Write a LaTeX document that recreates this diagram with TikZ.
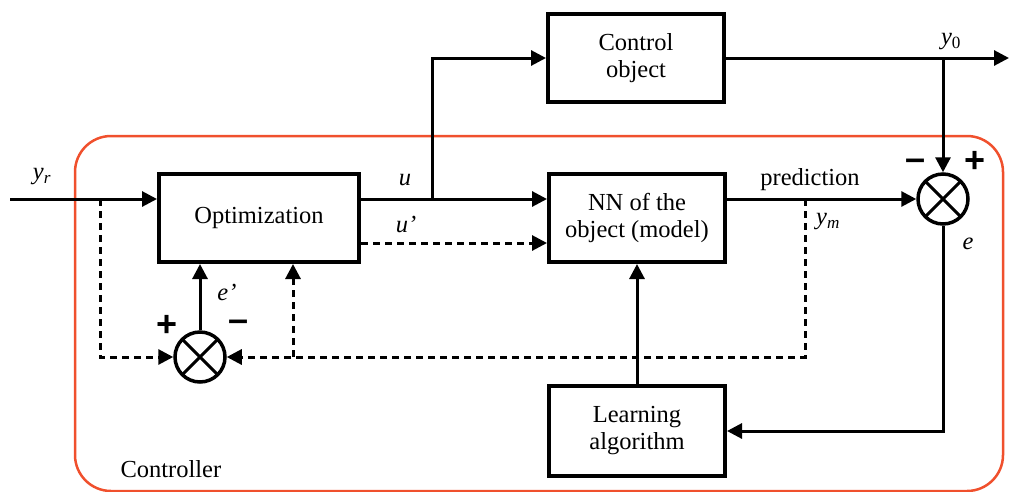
\documentclass[tikz,border=0pt]{standalone}
\usepackage{fontspec}
\setmainfont{Liberation Serif}
\setsansfont{Liberation Sans}
\usetikzlibrary{arrows.meta,calc}
\definecolor{frame}{RGB}{240,80,45}
\begin{document}
\begin{tikzpicture}[x=1pt,y=-1pt,
  every node/.style={font=\fontsize{24.5}{27}\selectfont},
  blk/.style={draw,line width=4pt,minimum width=176pt,minimum height=88pt,align=center,inner sep=0pt},
  sum/.style={draw,circle,line width=3.5pt,minimum size=50pt,inner sep=0pt,
    path picture={\draw[line width=3pt] (path picture bounding box.north west) -- (path picture bounding box.south east)
      (path picture bounding box.north east) -- (path picture bounding box.south west);}},
  arr/.style={line width=3pt,-{Triangle[length=15pt,width=15pt]}},
  dsharr/.style={line width=3pt,dash pattern=on 7pt off 5pt,-{Triangle[length=15pt,width=15pt]}},
  sgn/.style={font=\fontsize{36}{36}\selectfont\sffamily\bfseries},
  lbl/.style={font=\fontsize{24.5}{27}\selectfont\itshape}]
\useasboundingbox (0,0) rectangle (1009,491);
% controller frame
\draw[frame,line width=2.5pt,rounded corners=36pt] (75,136) rectangle (1003,491);
\node[anchor=west] (ctl) at (117,469) {Controller};
% blocks
\node[blk,minimum width=200pt] (opt) at (259,218) {Optimization};
\node[blk] (co) at (636,58) {Control\\object};
\node[blk] (nn) at (637,218) {NN of the\\object (model)};
\node[blk,minimum height=90pt] (lrn) at (637,431) {Learning\\algorithm};
\node[sum] (sr) at (943,199) {};
\node[sum] (sl) at (200,357) {};
% coordinates
\coordinate (in) at (10,199);
\coordinate (b1) at (100,199);
\coordinate (b2) at (805,199);
\coordinate (b3) at (293,357);
\coordinate (b4) at (432,199);
\coordinate (b5) at (943,58);
\coordinate (out) at (1009,58);
% connectors
\draw[arr] (in) -- (opt.west |- in);
\draw[dsharr] (b1) |- (sl.west);
\draw[arr] (sl.north) -- (sl.north |- opt.south);
\draw[dsharr] (b2) |- (sl.east);
\draw[dsharr] (b3) -- (b3 |- opt.south);
\draw[arr] (opt.east |- in) -- (nn.west |- in);
\draw[arr] (b4) |- (co.west);
\draw[dsharr] ($(opt.east)+(0,25)$) -- ($(nn.west)+(0,25)$);
\draw[arr] (co.east) -- (out);
\draw[arr] (b5) -- (sr.north);
\draw[arr] (nn.east |- sr.west) -- (sr.west);
\draw[arr] (sr.south) |- (lrn.east);
\draw[arr] (lrn.north) -- (nn.south);
% labels
\node[lbl] (lyr) at (42,177) {y\textsubscript{\itshape r}};
\node[lbl] (lu) at (405,180) {u};
\node[lbl] (lup) at (406,224) {u’};
\node[lbl] (lep) at (227,292) {e’};
\node[lbl] (ly0) at (951,42) {y\textsubscript{\upshape 0}};
\node (lpred) at (810,180) {prediction};
\node[lbl] (lym) at (828,222) {y\textsubscript{\itshape m}};
\node[lbl] (le) at (968,244) {e};
\node[sgn] (p1) at (167,326) {+};
\node[sgn] (m1) at (239,326) {–};
\node[sgn] (m2) at (915,165) {–};
\node[sgn] (p2) at (975,162) {+};
\end{tikzpicture}
\end{document}
